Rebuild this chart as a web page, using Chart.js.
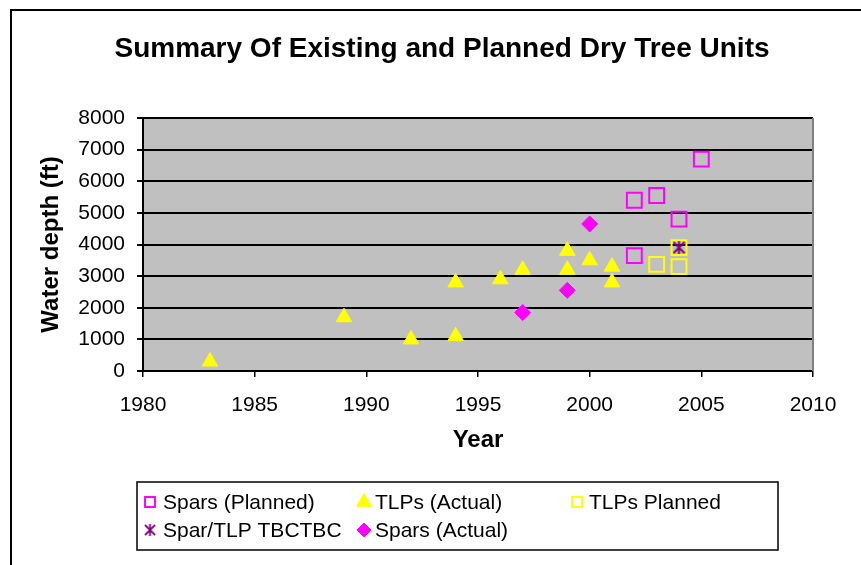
<!DOCTYPE html>
<html>
<head>
<meta charset="utf-8">
<title>Summary Of Existing and Planned Dry Tree Units</title>
<script src="https://cdn.jsdelivr.net/npm/chart.js@4.4.1/dist/chart.umd.min.js"></script>
<style>
  body { margin: 0; background: #fff; }
  canvas { display: block; }
</style>
</head>
<body>
<canvas id="chart" width="861" height="565"></canvas>
<script>
// values (year, water depth in ft)
const sparsPlannedYear = [2002, 2003, 2004, 2005, 2002];
const sparsPlannedDepth = [5400, 5550, 4800, 6700, 3650];
const tlpActualYear = [1983, 1989, 1992, 1994, 1994, 1996, 1997, 1999, 1999, 2000, 2001, 2001];
const tlpActualDepth = [300, 1700, 1000, 1100, 2800, 2900, 3200, 3800, 3200, 3500, 3300, 2800];
const tlpPlannedYear = [2003, 2004, 2004];
const tlpPlannedDepth = [3370, 3300, 3900];
const tbcYear = [2004];
const tbcDepth = [3900];
const sparsActualYear = [1997, 1999, 2000];
const sparsActualDepth = [1850, 2550, 4650];

const xTicks = [1980, 1985, 1990, 1995, 2000, 2005, 2010];
const yTicks = [0, 1000, 2000, 3000, 4000, 5000, 6000, 7000, 8000];

const FONT = "'Liberation Sans', Arial, sans-serif";
Chart.defaults.font.family = FONT;
Chart.defaults.color = "#000";

const pts = (xs, ys) => xs.map((x, i) => ({ x, y: ys[i] }));

// excel style star: vertical bar + X
function starMarker(size, color) {
  const c = document.createElement("canvas");
  c.width = size;
  c.height = size;
  const g = c.getContext("2d");
  g.strokeStyle = color;
  g.lineWidth = 2;
  const m = size / 2;
  g.beginPath();
  g.moveTo(m, 0);
  g.lineTo(m, size);
  g.moveTo(1, 1);
  g.lineTo(size - 1, size - 1);
  g.moveTo(size - 1, 1);
  g.lineTo(1, size - 1);
  g.stroke();
  return c;
}

const sparsPlanned = {
  label: "Spars (Planned)",
  data: pts(sparsPlannedYear, sparsPlannedDepth),
  pointStyle: "rect",
  pointRadius: 10.5,
  borderColor: "#ff00ff",
  backgroundColor: "rgba(0,0,0,0)",
  borderWidth: 2,
};
const tlpActual = {
  label: "TLPs (Actual)",
  data: pts(tlpActualYear, tlpActualDepth),
  pointStyle: "triangle",
  pointRadius: 9,
  borderColor: "#ffff00",
  backgroundColor: "#ffff00",
  borderWidth: 1,
};
const tlpPlanned = {
  label: "TLPs Planned",
  data: pts(tlpPlannedYear, tlpPlannedDepth),
  pointStyle: "rect",
  pointRadius: 10.5,
  borderColor: "#ffff00",
  backgroundColor: "rgba(0,0,0,0)",
  borderWidth: 2,
};
const tbc = {
  label: "Spar/TLP TBCTBC",
  data: pts(tbcYear, tbcDepth),
  pointStyle: starMarker(13, "#800080"),
  borderColor: "#800080",
  backgroundColor: "#800080",
};
const sparsActual = {
  label: "Spars (Actual)",
  data: pts(sparsActualYear, sparsActualDepth),
  pointStyle: "rectRot",
  pointRadius: 8,
  borderColor: "#ff00ff",
  backgroundColor: "#ff00ff",
  borderWidth: 1,
};

// legend grid like the excel one (3 columns)
const legendItems = [sparsPlanned, tlpActual, tlpPlanned, tbc, sparsActual];
const legendMarkX = [150, 364, 577];
const legendTextX = [163, 375, 589];
const legendRowY = [502, 530];
const legendRadius = { rect: 7, triangle: 8.5, rectRot: 7 };

const framePlugin = {
  id: "frame",
  beforeDraw(chart) {
    const { ctx, chartArea: a } = chart;
    ctx.save();
    ctx.fillStyle = "#c0c0c0";
    ctx.fillRect(a.left, a.top, a.right - a.left, a.bottom - a.top);
    ctx.strokeStyle = "#000";
    ctx.lineWidth = 2;
    ctx.strokeRect(11, 10, 900, 600);
    ctx.restore();
  },
  afterDraw(chart) {
    const { ctx, chartArea: a } = chart;
    ctx.save();
    // right edge of plot
    ctx.strokeStyle = "#808080";
    ctx.lineWidth = 2;
    ctx.beginPath();
    ctx.moveTo(a.right, a.top);
    ctx.lineTo(a.right, a.bottom);
    ctx.stroke();

    // title
    ctx.fillStyle = "#000";
    ctx.font = "bold 28px " + FONT;
    ctx.textAlign = "center";
    ctx.textBaseline = "alphabetic";
    ctx.fillText("Summary Of Existing and Planned Dry Tree Units", 442, 57);

    // legend
    ctx.lineWidth = 1.5;
    ctx.strokeStyle = "#000";
    ctx.strokeRect(137, 482, 641, 68);
    ctx.font = "21px " + FONT;
    ctx.textAlign = "left";
    ctx.textBaseline = "middle";
    legendItems.forEach((ds, i) => {
      const col = i % 3;
      const row = Math.floor(i / 3);
      const x = legendMarkX[col];
      const y = legendRowY[row];
      ctx.fillStyle = ds.backgroundColor;
      ctx.strokeStyle = ds.borderColor;
      ctx.lineWidth = ds.borderWidth || 1;
      if (typeof ds.pointStyle === "string") {
        Chart.helpers.drawPoint(ctx, {
          pointStyle: ds.pointStyle,
          radius: legendRadius[ds.pointStyle],
          borderWidth: ds.borderWidth,
          rotation: 0,
        }, x, y);
      } else {
        ctx.drawImage(ds.pointStyle, x - 6, y - 6, 12, 12);
      }
      ctx.fillStyle = "#000";
      ctx.fillText(ds.label, legendTextX[col], y + 1);
    });
    ctx.restore();
  },
};

new Chart(document.getElementById("chart"), {
  type: "scatter",
  data: {
    datasets: [tbc, sparsActual, sparsPlanned, tlpActual, tlpPlanned],
  },
  options: {
    responsive: false,
    animation: false,
    layout: { padding: { left: 37, right: 48, top: 118, bottom: 110 } },
    plugins: {
      legend: { display: false },
      title: { display: false },
      tooltip: { enabled: false },
    },
    scales: {
      x: {
        type: "linear",
        min: xTicks[0],
        max: xTicks[xTicks.length - 1],
        afterFit: (s) => { s.height = 84; },
        ticks: {
          stepSize: xTicks[1] - xTicks[0],
          font: { size: 21 },
          padding: 16,
          maxRotation: 0,
          callback: (v) => String(v),
        },
        grid: {
          drawOnChartArea: false,
          drawTicks: true,
          tickLength: 6,
          color: "#000",
          lineWidth: 1.5,
        },
        border: { color: "#000", width: 2 },
        title: {
          display: true,
          text: "Year",
          font: { size: 24, weight: "bold" },
          padding: 0,
        },
      },
      y: {
        min: yTicks[0],
        max: yTicks[yTicks.length - 1],
        afterFit: (s) => { s.width = 106; },
        ticks: {
          stepSize: yTicks[1] - yTicks[0],
          font: { size: 21 },
          padding: 12,
          callback: (v) => String(v),
        },
        grid: {
          color: "#000",
          lineWidth: 2,
          tickLength: 6,
        },
        border: { color: "#000", width: 2 },
        title: {
          display: true,
          text: "Water depth (ft)",
          font: { size: 24, weight: "bold" },
          padding: 0,
        },
      },
    },
  },
  plugins: [framePlugin],
});
</script>
</body>
</html>
